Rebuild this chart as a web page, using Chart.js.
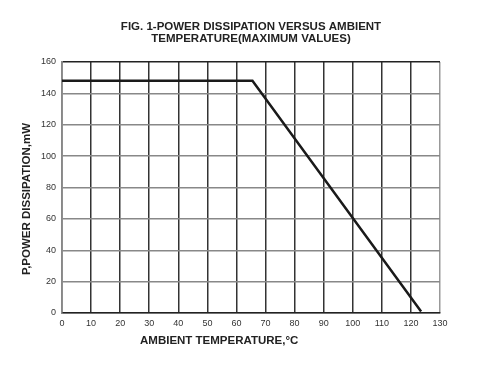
<!DOCTYPE html>
<html lang="en">
<head>
    <meta charset="UTF-8">
    <title>Power Dissipation vs Ambient Temperature</title>
    <script src="https://cdn.jsdelivr.net/npm/chart.js"></script>
    <style>
        body { margin: 0; background: #fff; }
        canvas { display: block; }
    </style>
</head>
<body>
    <canvas id="chart" width="488" height="366"></canvas>
    <script>
        // values
        const tempC = [0, 65.5, 123.5];
        const powerMW = [148, 148, 1];
        const titleLines = ['FIG. 1-POWER DISSIPATION VERSUS AMBIENT', 'TEMPERATURE(MAXIMUM VALUES)'];
        const xTitle = 'AMBIENT TEMPERATURE,\u00B0C';
        const yTitle = 'P,POWER DISSIPATION,mW';
        const FONT = '"Liberation Sans", Arial, sans-serif';

        // the titles are not where Chart.js would put them, so draw them by hand
        const titlesPlugin = {
            id: 'titles',
            afterDraw(chart) {
                const c = chart.ctx;
                const area = chart.chartArea;
                c.save();
                c.font = 'bold 11.5px ' + FONT;
                c.fillStyle = '#222';
                c.textBaseline = 'middle';

                c.textAlign = 'center';
                const cx = (area.left + area.right) / 2;
                c.fillText(titleLines[0], cx, 27);
                c.fillText(titleLines[1], cx, 39);

                c.textAlign = 'left';
                c.fillText(xTitle, 140, 341);

                c.translate(27, 199);
                c.rotate(-Math.PI / 2);
                c.textAlign = 'center';
                c.fillText(yTitle, 0, 0);
                c.restore();
            }
        };

        new Chart(document.getElementById('chart'), {
            type: 'line',
            data: {
                datasets: [{
                    data: tempC.map((t, i) => ({ x: t, y: powerMW[i] })),
                    borderColor: '#1a1a1a',
                    borderWidth: 2.5,
                    pointRadius: 0,
                    tension: 0,
                    fill: false
                }]
            },
            options: {
                responsive: false,
                animation: false,
                layout: { padding: { left: 0, right: 48, top: 62, bottom: 0 } },
                plugins: {
                    legend: { display: false },
                    tooltip: { enabled: false }
                },
                scales: {
                    x: {
                        type: 'linear',
                        min: 0,
                        max: 130,
                        afterFit: s => { s.height = 53; },
                        ticks: {
                            stepSize: 10,
                            padding: 5,
                            color: '#333',
                            font: { family: FONT, size: 9 }
                        },
                        grid: {
                            drawTicks: false,
                            lineWidth: 1.5,
                            color: ctx => ctx.tick && ctx.tick.value === 130 ? '#999' : '#333'
                        },
                        border: { color: '#222', width: 1.5 }
                    },
                    y: {
                        min: 0,
                        max: 160,
                        afterFit: s => { s.width = 62; },
                        ticks: {
                            stepSize: 20,
                            padding: 6,
                            color: '#333',
                            font: { family: FONT, size: 9 }
                        },
                        grid: {
                            drawTicks: false,
                            lineWidth: 1.5,
                            color: ctx => ctx.tick && ctx.tick.value === 160 ? '#222' : '#888'
                        },
                        border: { color: '#888', width: 1.5 }
                    }
                }
            },
            plugins: [titlesPlugin]
        });
    </script>
</body>
</html>
